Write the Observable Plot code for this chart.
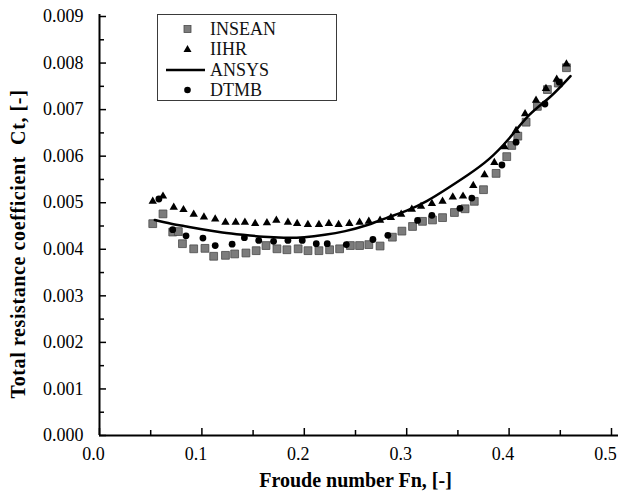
<!DOCTYPE html>
<html>
<head>
<meta charset="utf-8">
<script src="https://cdn.jsdelivr.net/npm/d3@7"></script>
<script src="https://cdn.jsdelivr.net/npm/@observablehq/plot@0.6"></script>
<style>
  html, body { margin: 0; padding: 0; background: #fff; }
  #wrap { position: relative; width: 618px; height: 494px; overflow: hidden; }
  #legend { position: absolute; left: 157px; top: 14px; width: 180px; height: 87px;
    border: 1px solid #3a3a3a; box-sizing: border-box; background: #fff;
    font-family: "Liberation Serif", "Times New Roman", serif; font-size: 18px; color: #111; }
  #legend .row { position: absolute; left: 0; height: 20px; width: 100%; }
  #legend .row svg { position: absolute; left: 0; top: 0; }
  #legend .row span { position: absolute; left: 52px; top: 0; line-height: 20px; }
</style>
</head>
<body>
<div id="wrap">
  <div id="chart"></div>
  <div id="legend"></div>
</div>
<script>
// ---- data ----
const xTicks = [0, 0.1, 0.2, 0.3, 0.4, 0.5];
const xMinorTicks = [0.05, 0.15, 0.25, 0.35, 0.45];
const yTicks = [0, 0.001, 0.002, 0.003, 0.004, 0.005, 0.006, 0.007, 0.008, 0.009];
const yMinorTicks = [0.0005, 0.0015, 0.0025, 0.0035, 0.0045, 0.0055, 0.0065, 0.0075, 0.0085];

const seriesNames = ["INSEAN", "IIHR", "ANSYS", "DTMB"];

const inseanFn = [0.052, 0.062, 0.0715, 0.077, 0.081, 0.092, 0.103, 0.1115, 0.123, 0.132, 0.143, 0.153,
  0.1626, 0.1733, 0.183, 0.194, 0.2036, 0.2143, 0.2247, 0.2345, 0.245, 0.254, 0.263, 0.274,
  0.286, 0.2953, 0.3057, 0.3154, 0.3252, 0.335, 0.3466, 0.357, 0.366, 0.375, 0.3873, 0.3977,
  0.4026, 0.4085, 0.4166, 0.4276, 0.4374, 0.448, 0.456];
const inseanCt = [0.00455, 0.00476, 0.00437, 0.00438, 0.00412, 0.00401, 0.00402, 0.00385, 0.00387, 0.0039, 0.00392, 0.00397,
  0.00408, 0.00401, 0.00399, 0.00401, 0.00397, 0.00397, 0.00399, 0.00401, 0.00408, 0.00408, 0.0041, 0.00407,
  0.00426, 0.00439, 0.00449, 0.0046, 0.00463, 0.00468, 0.00479, 0.00487, 0.00503, 0.00528, 0.00563, 0.00599,
  0.00623, 0.00643, 0.00673, 0.00707, 0.00743, 0.00757, 0.0079];

const iihrFn = [0.052, 0.062, 0.0725, 0.082, 0.092, 0.102, 0.113, 0.123, 0.133, 0.142, 0.152, 0.1635,
  0.1727, 0.184, 0.193, 0.2035, 0.2143, 0.224, 0.2335, 0.244, 0.254, 0.263, 0.274, 0.2846,
  0.2946, 0.305, 0.314, 0.3246, 0.335, 0.345, 0.355, 0.365, 0.376, 0.3856, 0.3955, 0.4068,
  0.4156, 0.4263, 0.436, 0.4465, 0.456];
const iihrCt = [0.00503, 0.00514, 0.0049, 0.00485, 0.00475, 0.00469, 0.00465, 0.00458, 0.00458, 0.00458, 0.00455, 0.00457,
  0.00462, 0.00458, 0.00455, 0.00453, 0.00453, 0.00455, 0.00453, 0.00455, 0.00458, 0.0046, 0.00462, 0.00468,
  0.00475, 0.00486, 0.00492, 0.00498, 0.00503, 0.00512, 0.00514, 0.00537, 0.0056, 0.00586, 0.0062, 0.00655,
  0.00691, 0.0072, 0.00745, 0.00765, 0.00798];

const dtmbFn = [0.058, 0.0715, 0.0845, 0.101, 0.113, 0.1295, 0.1415, 0.1555, 0.170, 0.184, 0.198, 0.2117,
  0.2224, 0.241, 0.267, 0.2816, 0.3106, 0.3246, 0.352, 0.3636, 0.393, 0.4068, 0.435, 0.449];
const dtmbCt = [0.00508, 0.00442, 0.00429, 0.00424, 0.00408, 0.00411, 0.00425, 0.00419, 0.00417, 0.00419, 0.00419, 0.00412,
  0.00412, 0.0041, 0.00421, 0.0043, 0.00462, 0.00473, 0.00488, 0.0051, 0.00581, 0.0063, 0.00712, 0.00759];

const ansysFn = [0.054, 0.07, 0.085, 0.10, 0.12, 0.14, 0.16, 0.18, 0.20, 0.22, 0.24, 0.26,
  0.28, 0.30, 0.32, 0.34, 0.36, 0.38, 0.40, 0.42, 0.44, 0.46];
const ansysCt = [0.00463, 0.00455, 0.00449, 0.00443, 0.00436, 0.00431, 0.00427, 0.00425, 0.00426, 0.00431, 0.00439, 0.00451,
  0.00467, 0.00483, 0.00504, 0.00531, 0.0056, 0.00593, 0.00638, 0.00689, 0.00727, 0.00772];

const zip = (xs, ys) => xs.map((x, i) => ({x, y: ys[i]}));
const insean = zip(inseanFn, inseanCt);
const iihr = zip(iihrFn, iihrCt);
const dtmb = zip(dtmbFn, dtmbCt);
const ansys = zip(ansysFn, ansysCt);

const font = "Liberation Serif";
const blank = () => "";

const chart = Plot.plot({
  width: 618,
  height: 494,
  marginLeft: 99,
  marginRight: 7,
  marginTop: 16,
  marginBottom: 59,
  style: {fontFamily: font, fontSize: "18px", color: "#000", background: "#fff", overflow: "visible"},
  x: {domain: [0, 0.5]},
  y: {domain: [0, 0.009]},
  marks: [
    // tick labels + axis titles
    Plot.axisX(xTicks, {tickSize: 0, tickPadding: 12, dx: -6, tickFormat: d3.format(".1f"), fontSize: 18, fontFamily: font,
      label: "Froude number Fn, [-]", labelAnchor: "center", labelArrow: "none", labelOffset: 51}),
    Plot.axisY(yTicks, {tickSize: 0, tickPadding: 16, tickFormat: d3.format(".3f"), fontSize: 18, fontFamily: font,
      label: "Total resistance coefficient  Ct, [-]", labelAnchor: "center", labelArrow: "none", labelOffset: 89}),
    // inward ticks
    Plot.axisX(xTicks, {tickSize: -7, tickFormat: blank, label: null, strokeWidth: 1.5}),
    Plot.axisX(xMinorTicks, {tickSize: -5, tickFormat: blank, label: null, strokeWidth: 1.5}),
    Plot.axisY(yTicks, {tickSize: -7, tickFormat: blank, label: null, strokeWidth: 1.5}),
    Plot.axisY(yMinorTicks, {tickSize: -5, tickFormat: blank, label: null, strokeWidth: 1.5}),
    // axis lines
    Plot.ruleY([0], {stroke: "#000", strokeWidth: 2, insetRight: -7}),
    Plot.ruleX([0], {stroke: "#000", strokeWidth: 2, insetTop: -2}),
    // data
    Plot.dot(insean, {x: "x", y: "y", symbol: "square", r: 4.4, fill: "#7c7c7c", stroke: "#4a4a4a", strokeWidth: 0.8}),
    Plot.dot(iihr, {x: "x", y: "y", symbol: "triangle", r: 3.1, fill: "#000"}),
    Plot.dot(dtmb, {x: "x", y: "y", symbol: "circle", r: 3.4, fill: "#000"}),
    Plot.line(ansys, {x: "x", y: "y", stroke: "#000", strokeWidth: 2.5, curve: "natural"})
  ]
});
chart.setAttribute("font-family", font);
chart.querySelectorAll("g[aria-label$='axis label']").forEach(el => {
  el.setAttribute("font-weight", "bold");
  el.setAttribute("font-size", "20");
});
chart.querySelectorAll("g[aria-label='y-axis label']").forEach(el => {
  el.setAttribute("letter-spacing", "0.6");
  el.setAttribute("transform", (el.getAttribute("transform") || "") + " translate(0,18)");
});
document.getElementById("chart").appendChild(chart);

// legend
const legend = document.getElementById("legend");
const rowsTop = [4, 24, 45, 65];
seriesNames.forEach((name, i) => {
  const row = document.createElement("div");
  row.className = "row";
  row.style.top = rowsTop[i] + "px";
  let sym = "";
  if (name === "INSEAN") sym = '<rect x="26" y="6.5" width="7" height="7" fill="#7c7c7c" stroke="#4a4a4a" stroke-width="0.8"/>';
  if (name === "IIHR") sym = '<path d="M29.5,6 L33.5,13 L25.5,13 Z" fill="#000"/>';
  if (name === "ANSYS") sym = '<line x1="8" x2="47" y1="10" y2="10" stroke="#000" stroke-width="2.5"/>';
  if (name === "DTMB") sym = '<circle cx="29.5" cy="10" r="3.3" fill="#000"/>';
  row.innerHTML = '<svg width="50" height="20">' + sym + '</svg><span>' + name + '</span>';
  legend.appendChild(row);
});
</script>
</body>
</html>
